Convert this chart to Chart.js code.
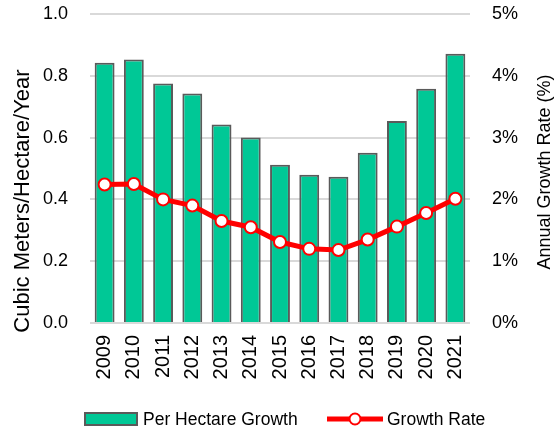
<!DOCTYPE html>
<html>
<head>
<meta charset="utf-8">
<script src="https://cdn.jsdelivr.net/npm/chart.js@4"></script>
<style>
html,body{margin:0;padding:0;background:#fff;}
canvas{display:block;}
</style>
</head>
<body>
<canvas id="growthChart" width="559" height="434"></canvas>
<script>
// Forest growth per hectare and yearly growth rate

const years = ["2009","2010","2011","2012","2013","2014","2015","2016","2017","2018","2019","2020","2021"];
const perHectare = [0.842,0.853,0.775,0.743,0.642,0.600,0.512,0.480,0.473,0.551,0.654,0.758,0.871];
const growthRate = [2.24,2.25,2.00,1.90,1.65,1.55,1.31,1.20,1.18,1.35,1.56,1.78,2.01];

const leftTicks = [0,0.2,0.4,0.6,0.8,1.0];
const rightTicks = [0,1,2,3,4,5];

const FONT = "'Liberation Sans', Arial, sans-serif";
Chart.defaults.font.family = FONT;
Chart.defaults.color = "#000";

// axis titles and bottom legend drawn by hand
const extras = {
id:"extras",
afterDraw(chart){
const ctx = chart.ctx;
ctx.save();
ctx.fillStyle = "#000";
ctx.textAlign = "center";
ctx.textBaseline = "middle";

ctx.save();
ctx.translate(23,201);
ctx.rotate(-Math.PI/2);
ctx.font = "22px " + FONT;
ctx.fillText("Cubic Meters/Hectare/Year",0,0);
ctx.restore();

ctx.save();
ctx.translate(545,172);
ctx.rotate(-Math.PI/2);
ctx.font = "18px " + FONT;
ctx.fillText("Annual Growth Rate (%)",0,0);
ctx.restore();

const bar = chart.data.datasets[1];
const line = chart.data.datasets[0];
const y = 419;
ctx.textAlign = "left";
ctx.font = "17.5px " + FONT;

ctx.fillStyle = bar.backgroundColor;
ctx.fillRect(85,413,52,12);
ctx.strokeStyle = bar.borderColor;
ctx.lineWidth = 2;
ctx.strokeRect(85,413,52,12);
ctx.fillStyle = "#000";
ctx.fillText(bar.label,143,y+1);

ctx.strokeStyle = line.borderColor;
ctx.lineWidth = 5;
ctx.beginPath();
ctx.moveTo(327,y);
ctx.lineTo(383,y);
ctx.stroke();
ctx.beginPath();
ctx.arc(355,y,5.5,0,Math.PI*2);
ctx.fillStyle = "#fff";
ctx.fill();
ctx.lineWidth = 2;
ctx.stroke();
ctx.fillStyle = "#000";
ctx.fillText(line.label,387,y+1);

ctx.restore();
}
};

new Chart(
document.getElementById("growthChart"),
{
type:"bar",

data:{
labels:years,

datasets:[
{
type:"line",
label:"Growth Rate",
data:growthRate,
yAxisID:"y1",
borderColor:"#FF0000",
borderWidth:5,
pointRadius:6,
pointBorderWidth:2,
pointBackgroundColor:"#fff",
pointBorderColor:"#FF0000",
tension:0,
order:0
},
{
label:"Per Hectare Growth",
data:perHectare,
yAxisID:"y",
backgroundColor:"#00C896",
borderColor:"#5a5a5a",
borderWidth:2,
categoryPercentage:1,
barPercentage:0.68,
order:1
}
]
},

options:{
responsive:false,
animation:false,
layout:{padding:{top:14,left:0,right:0,bottom:0}},
plugins:{legend:{display:false},tooltip:{enabled:false}},
scales:{
x:{
grid:{display:false,drawTicks:false},
border:{display:false},
ticks:{font:{size:20},minRotation:90,maxRotation:90,padding:12},
afterFit(s){s.height = 111;}
},
y:{
position:"left",
min:0,max:1,
afterBuildTicks(s){s.ticks = leftTicks.map(v=>({value:v}));},
ticks:{font:{size:18},padding:0,callback:v=>v.toFixed(1)},
grid:{color:"#d9d9d9",lineWidth:2,tickLength:22,tickColor:"rgba(0,0,0,0)"},
border:{display:false},
afterFit(s){s.width = 90;}
},
y1:{
position:"right",
min:0,max:5,
afterBuildTicks(s){s.ticks = rightTicks.map(v=>({value:v}));},
ticks:{font:{size:18},padding:0,callback:v=>v+"%"},
grid:{drawOnChartArea:false,tickLength:22,tickColor:"rgba(0,0,0,0)"},
border:{display:false},
afterFit(s){s.width = 89;}
}
}
},

plugins:[extras]
}
);
</script>
</body>
</html>
